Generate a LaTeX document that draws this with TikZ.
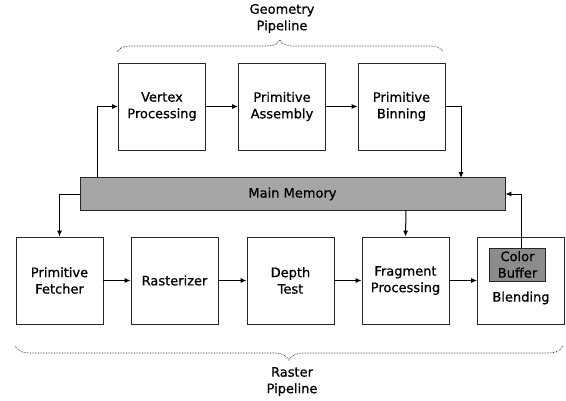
\documentclass[tikz,border=0pt]{standalone}
\usepackage{fontspec}
\setmainfont{DejaVu Sans}[FakeBold=0.7]
\usetikzlibrary{arrows.meta,decorations.pathreplacing}
\begin{document}
\begin{tikzpicture}[x=1pt,y=-1pt,
  font=\fontsize{13}{16.5}\selectfont,
  box/.style={draw=black!85,line width=0.8pt,fill=white,minimum width=87pt,minimum height=87pt,align=center,inner sep=0pt},
  mem/.style={draw=black!85,line width=0.8pt,fill=black!35,minimum width=425pt,minimum height=33pt,inner sep=0pt},
  buf/.style={draw=black!85,line width=0.8pt,fill=black!45,minimum width=56pt,minimum height=33pt,align=center,inner sep=0pt},
  conn/.style={line width=1pt,-{Latex[length=6pt,width=5pt]}},
  brc/.style={densely dotted,line width=0.6pt,decorate,decoration={brace,amplitude=12pt}},
  lbl/.style={align=center,inner sep=0pt}]
\useasboundingbox (0,0) rectangle (566,400);
% top row
\node[box] (vp) at (162,106.5) {Vertex\\Processing};
\node[box] (pa) at (282,106.5) {Primitive\\Assembly};
\node[box] (pb) at (401.5,106.5) {Primitive\\Binning};
% memory
\node[mem] (mm) at (292.5,194) {Main Memory};
% bottom row
\node[box] (pf) at (59.5,280.5) {Primitive\\Fetcher};
\node[box] (rz) at (174.5,280.5) {Rasterizer};
\node[box] (dt) at (290.5,280.5) {Depth\\Test};
\node[box] (fp) at (405.5,280.5) {Fragment\\Processing};
\node[box] (bl) at (521,280.5) {};
\node[buf] (cb) at (517.5,264.5) {Color\\Buffer};
\node[lbl] (blt) at (521,298) {Blending};
% connectors top
\coordinate (c1) at (97,178);
\draw[conn] (c1) |- (vp.west);
\draw[conn] (vp) -- (pa);
\draw[conn] (pa) -- (pb);
\coordinate (c2) at (461,178);
\draw[conn] (pb.east) -| (c2);
% connectors bottom
\coordinate (c3) at (80,194);
\draw[conn] (c3) -| (pf.north);
\draw[conn] (rz.west -| pf.east) -- (rz.west);
\draw[conn] (rz) -- (dt);
\draw[conn] (dt) -- (fp);
\draw[conn] (fp) -- (bl);
\coordinate (c4) at (406,210);
\draw[conn] (c4) -- (fp.north);
\coordinate (c5) at (521,248);
\draw[conn] (c5) |- (mm.east);
% braces
\draw[brc] (117,52) -- (443,52);
\node[lbl] (gp) at (282,18.5) {Geometry\\Pipeline};
\draw[brc,decoration={brace,amplitude=14pt,mirror}] (15,346) -- (563,346);
\node[lbl] (rp) at (292,381.5) {Raster\\Pipeline};
\end{tikzpicture}
\end{document}
